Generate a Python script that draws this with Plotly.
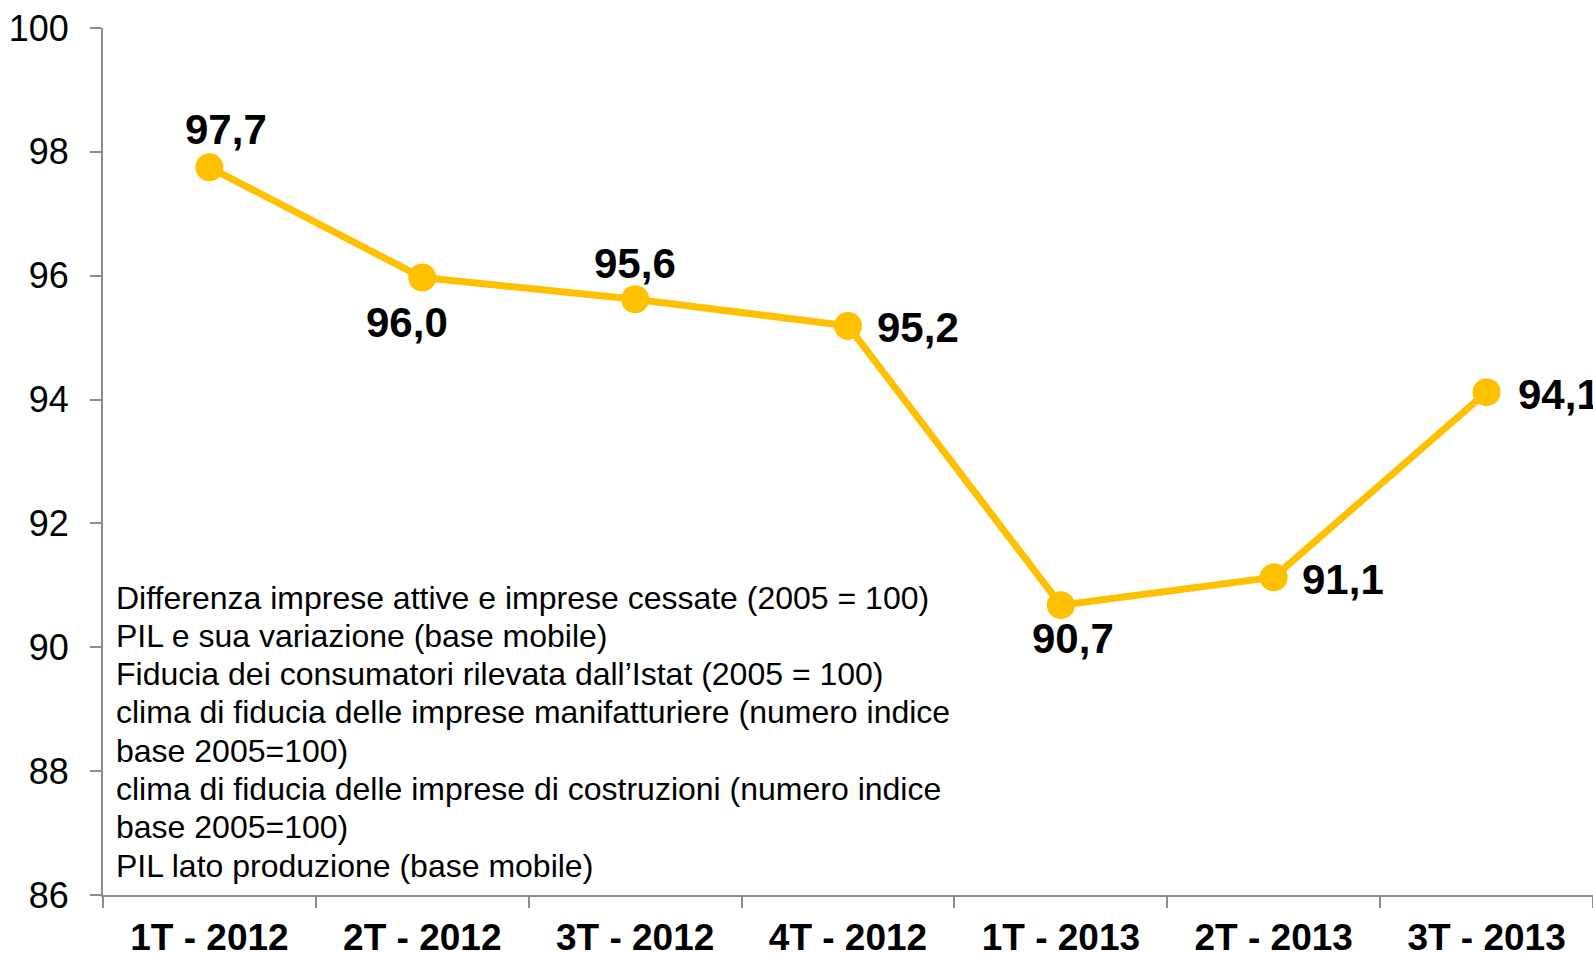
import plotly.graph_objects as go

categories = ["1T - 2012", "2T - 2012", "3T - 2012", "4T - 2012", "1T - 2013", "2T - 2013", "3T - 2013"]
values = [97.75, 95.97, 95.62, 95.19, 90.68, 91.13, 94.12]
value_labels = ["97,7", "96,0", "95,6", "95,2", "90,7", "91,1", "94,1"]
label_shift_x = [17, -15, 0, 70, 12, 69, 72]
label_shift_y = [38, -45, 36, -2, -33, -2, -2]
y_ticks = [86, 88, 90, 92, 94, 96, 98, 100]
notes = [
    "Differenza imprese attive e imprese cessate (2005 = 100)",
    "PIL e sua variazione (base mobile)",
    "Fiducia dei consumatori rilevata dall\u2019Istat (2005 = 100)",
    "clima di fiducia delle imprese manifatturiere (numero indice",
    "base 2005=100)",
    "clima di fiducia delle imprese di costruzioni (numero indice",
    "base 2005=100)",
    "PIL lato produzione (base mobile)",
]

W, H = 1593, 954
ML, MR, MT = 103, 0, 28
PLOT_H = 867
MB = H - MT - PLOT_H
FONT = "Arial, Liberation Sans, sans-serif"
GOLD = "#FFC000"
AXIS = "#8c8c8c"

fig = go.Figure()
fig.add_trace(go.Scatter(
    x=categories, y=values, mode="lines+markers",
    line=dict(color=GOLD, width=7),
    marker=dict(color=GOLD, size=28),
    cliponaxis=False, hoverinfo="skip", showlegend=False,
))

for c, v, t, dx, dy in zip(categories, values, value_labels, label_shift_x, label_shift_y):
    fig.add_annotation(x=c, y=v, xref="x", yref="y", text=f"<b>{t}</b>",
                       showarrow=False, xshift=dx, yshift=dy,
                       font=dict(family=FONT, size=42, color="black"))

first_line_px = 597.5  # page pixel of first note line centre
line_step = 38.3
plot_bottom_px = MT + PLOT_H
for i, line in enumerate(notes):
    py = first_line_px + i * line_step
    fig.add_annotation(x=(114 - ML) / (W - ML - MR), xref="paper", xanchor="left",
                       y=(plot_bottom_px - py) / PLOT_H, yref="paper", yanchor="middle",
                       text=line, showarrow=False,
                       font=dict(family=FONT, size=32, color="black"))

fig.update_xaxes(
    type="category", range=[-0.5, 6.5], tickson="boundaries",
    ticks="outside", ticklen=11, tickwidth=2, tickcolor=AXIS,
    showline=True, linecolor=AXIS, linewidth=2, showgrid=False, zeroline=False,
    tickfont=dict(family=FONT, size=37, color="black"),
    tickprefix="<b>", ticksuffix="</b>", ticklabelstandoff=9,
    ticklabeloverflow="allow", automargin=False,
)
fig.update_yaxes(
    range=[86, 100], tickvals=y_ticks, ticks="outside", ticklen=11, tickwidth=2,
    tickcolor=AXIS, showline=True, linecolor=AXIS, linewidth=2, showgrid=False,
    zeroline=False, tickfont=dict(family=FONT, size=36, color="black"),
    ticklabelstandoff=14, ticklabeloverflow="allow", automargin=False,
)
fig.update_layout(
    width=W, height=H, margin=dict(l=ML, r=MR, t=MT, b=MB, autoexpand=False),
    paper_bgcolor="white", plot_bgcolor="white", font=dict(family=FONT),
)
fig.write_html(
    "out.html",
    config={"displayModeBar": False},
    post_script="document.body.style.margin='0';document.body.style.overflow='hidden';",
)
